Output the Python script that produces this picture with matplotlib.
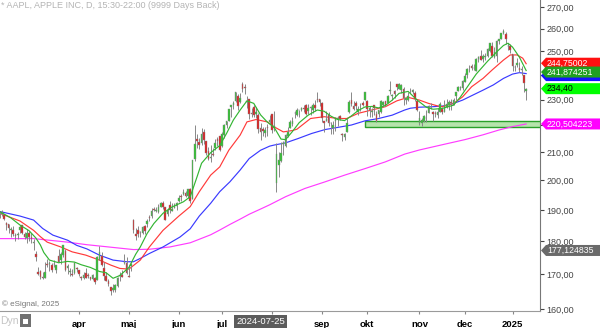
import numpy as np
import pandas as pd
import matplotlib
matplotlib.use("Agg")
import matplotlib.pyplot as plt
from matplotlib.patches import Polygon, Rectangle
from matplotlib.ticker import FixedLocator, NullLocator
import matplotlib.transforms as mtrans

plt.rcParams['font.family'] = ['Liberation Sans', 'DejaVu Sans']

# ---------------- data ----------------
holidays = ['2024-02-19', '2024-03-29', '2024-05-27', '2024-06-19', '2024-07-04',
            '2024-09-02', '2024-11-28', '2024-12-25', '2025-01-01', '2025-01-09']
first_day = '2024-02-08'
last_day = '2025-01-13'

opens = [
    189.39, 188.65, 188.42, 185.77, 185.32, 183.55, 183.42, 181.79, 181.94, 183.48, 185.01, 182.24, 181.10, 182.51, 181.27,
    179.55, 176.15, 170.76, 171.06, 169.15, 169.00, 172.94, 173.15, 172.77, 172.91, 171.17, 175.57, 174.34, 175.72, 177.05, 171.76, 170.57, 170.00, 170.41, 171.75,
    171.19, 169.08, 168.79, 170.29, 169.59, 169.03, 168.70, 168.80, 168.34, 174.26, 175.36, 171.75, 169.61, 168.03, 166.21, 165.52, 165.35, 166.54, 169.53, 169.88, 173.37, 173.33,
    169.58, 172.51, 186.65, 182.35, 183.45, 182.85, 182.56, 184.90, 185.44, 187.51, 187.91, 190.47, 189.51, 189.33, 191.09, 192.27, 190.98, 188.82, 191.51, 189.61, 190.76, 191.44,
    192.90, 194.64, 195.40, 195.69, 194.65, 196.90, 193.65, 207.37, 214.74, 213.85, 213.37, 217.59, 213.93, 210.39, 207.72, 209.15, 211.50, 214.69, 215.77,
    212.09, 216.15, 220.00, 221.65, 227.09, 227.93, 229.30, 231.39, 228.92, 236.48, 235.00, 229.45, 230.28, 224.82, 227.01, 224.37, 224.00, 218.93, 218.70, 216.96, 219.19, 221.44,
    224.37, 219.15, 199.09, 205.30, 206.90, 213.11, 212.10, 216.07, 219.01, 220.57, 224.60, 223.92, 225.72, 225.77, 226.52, 227.79, 225.66, 226.76, 226.00, 227.92, 230.10, 230.19,
    228.55, 221.66, 221.63, 223.95, 220.82, 218.92, 221.46, 222.50, 223.58, 216.54, 215.75, 217.55, 224.99, 229.97, 227.34, 228.65, 224.93, 227.30, 228.46, 230.04,
    229.52, 225.89, 225.14, 227.90, 224.50, 224.30, 225.23, 227.78, 229.30, 228.70, 233.61, 231.60, 233.43, 236.18, 234.45, 233.89, 234.08, 229.98, 229.74, 233.32, 233.10, 232.61, 229.34,
    220.97, 220.99, 221.80, 222.61, 224.63, 227.17, 225.00, 224.55, 224.01, 225.02, 226.40, 225.25, 226.98, 228.06, 228.88, 228.06, 231.46, 233.33, 234.47, 234.81,
    237.27, 239.81, 242.87, 243.99, 242.91, 241.83, 246.89, 247.96, 246.89, 247.82, 247.99, 250.08, 252.16, 247.50, 248.04, 254.77, 255.49, 258.19, 257.83, 252.23, 252.44,
    248.93, 243.36, 244.31, 242.98, 241.92, 240.01, 233.53,
]
highs = [
    189.54, 189.99, 188.67, 186.21, 185.53, 184.49, 184.85, 182.43, 182.89, 184.96, 185.04, 182.76, 183.92, 183.12, 182.57,
    180.53, 176.90, 172.04, 171.24, 170.73, 173.70, 174.38, 174.03, 173.19, 174.31, 172.62, 177.71, 176.61, 178.67, 177.49, 173.05, 171.94, 171.42, 173.60, 172.23,
    171.25, 169.34, 170.68, 171.92, 170.39, 169.20, 170.08, 169.09, 175.46, 178.36, 176.63, 173.76, 170.65, 168.64, 166.40, 167.26, 167.05, 169.30, 170.61, 171.34, 176.03, 174.99,
    172.71, 173.42, 187.00, 184.20, 184.90, 183.07, 184.66, 185.09, 187.10, 188.30, 190.65, 191.10, 190.81, 191.92, 192.73, 192.82, 191.00, 190.58, 193.00, 192.25, 192.18, 192.57,
    194.99, 195.32, 196.90, 196.50, 196.94, 197.30, 207.16, 220.20, 216.75, 215.17, 218.95, 218.63, 214.24, 211.89, 212.70, 211.38, 214.86, 215.74, 216.07,
    217.51, 220.38, 221.55, 226.45, 227.85, 229.40, 233.08, 232.39, 232.64, 237.23, 236.27, 231.46, 230.44, 226.80, 227.78, 226.94, 224.80, 220.85, 219.49, 219.30, 220.33, 223.82,
    224.48, 225.60, 213.50, 209.99, 213.64, 214.20, 216.78, 219.51, 221.89, 223.03, 225.35, 226.83, 225.99, 227.17, 227.98, 228.34, 228.22, 227.28, 228.85, 229.86, 232.92, 230.40,
    229.00, 221.78, 225.48, 225.24, 221.27, 221.48, 223.09, 223.55, 224.04, 217.22, 216.90, 222.71, 229.82, 233.09, 229.45, 229.35, 227.29, 228.50, 229.52, 233.00,
    229.65, 227.37, 226.81, 228.00, 225.69, 225.98, 229.75, 229.50, 229.41, 231.73, 237.49, 232.12, 233.85, 236.18, 236.85, 236.22, 235.14, 230.82, 233.22, 234.73, 234.33, 233.47, 229.83,
    225.35, 222.79, 223.95, 226.07, 227.88, 228.66, 225.70, 225.59, 226.65, 228.87, 226.92, 229.74, 230.16, 229.93, 230.16, 230.72, 233.25, 235.57, 235.69, 237.81,
    240.79, 242.76, 244.11, 244.54, 244.63, 247.24, 248.21, 250.80, 248.74, 249.29, 251.38, 253.83, 254.28, 252.00, 255.00, 255.65, 258.21, 260.10, 258.70, 253.50, 253.28,
    249.10, 244.18, 247.33, 245.55, 243.71, 240.16, 234.67,
]
lows = [
    187.35, 188.00, 186.79, 183.51, 182.44, 181.35, 181.67, 180.00, 180.66, 182.46, 182.23, 180.65, 179.56, 180.13, 179.53,
    177.38, 173.79, 169.62, 168.68, 168.49, 168.94, 172.05, 171.01, 170.76, 172.05, 170.29, 173.52, 173.03, 175.09, 170.84, 170.06, 169.45, 169.58, 170.11, 170.51,
    169.48, 168.23, 168.58, 168.82, 168.95, 168.24, 168.35, 167.11, 168.16, 174.21, 172.50, 168.27, 168.00, 166.55, 164.08, 164.77, 164.92, 166.21, 168.15, 169.18, 173.10, 170.00,
    169.11, 170.89, 182.66, 180.42, 181.32, 181.45, 182.11, 182.13, 184.62, 186.29, 187.37, 189.66, 189.18, 189.01, 190.92, 190.27, 186.63, 188.04, 189.10, 189.51, 190.63, 189.91,
    192.52, 193.03, 194.87, 194.17, 194.14, 192.15, 193.63, 206.90, 211.60, 211.30, 212.72, 213.00, 208.85, 207.11, 206.59, 208.61, 210.64, 212.35, 210.30,
    211.92, 215.10, 219.03, 221.65, 223.25, 226.37, 229.25, 225.77, 228.68, 233.09, 232.33, 226.64, 222.27, 223.28, 223.09, 222.68, 217.13, 214.62, 216.01, 215.75, 216.12, 220.63,
    217.02, 217.71, 196.00, 201.07, 206.39, 208.83, 211.97, 215.60, 219.01, 219.70, 222.76, 223.65, 223.04, 225.45, 225.05, 223.90, 224.33, 223.89, 224.89, 225.68, 228.88, 227.48,
    221.17, 217.48, 221.52, 219.77, 216.71, 216.73, 217.89, 219.82, 221.91, 213.92, 214.50, 217.54, 224.63, 227.62, 225.81, 225.73, 224.02, 225.41, 227.30, 229.65,
    223.74, 223.02, 223.32, 224.13, 221.33, 223.25, 224.83, 227.17, 227.34, 228.60, 232.37, 229.84, 230.52, 234.01, 234.45, 232.60, 227.76, 228.41, 229.57, 232.55, 232.32, 229.55, 225.37,
    220.27, 219.71, 221.14, 221.19, 224.57, 226.41, 221.50, 223.36, 222.76, 225.00, 224.27, 225.17, 226.66, 225.89, 225.71, 228.06, 229.74, 233.33, 233.81, 233.97,
    237.16, 238.90, 241.25, 242.13, 242.08, 241.75, 245.34, 246.26, 245.68, 246.24, 247.65, 249.78, 247.74, 247.09, 245.69, 253.45, 255.29, 257.63, 253.06, 250.75, 249.43,
    241.82, 241.89, 243.20, 241.35, 240.05, 233.00, 229.72,
]
closes = [
    188.32, 188.85, 187.15, 185.04, 184.15, 183.86, 182.31, 181.56, 182.32, 184.37, 182.52, 181.16, 182.63, 181.42, 180.75,
    179.66, 175.10, 170.12, 169.12, 169.00, 170.73, 172.75, 173.23, 171.13, 173.00, 172.62, 173.72, 176.08, 178.67, 171.37, 172.28, 170.85, 169.71, 173.31, 171.48,
    170.03, 168.84, 169.65, 168.82, 169.58, 168.45, 169.67, 167.78, 175.04, 176.55, 172.69, 169.38, 168.00, 167.04, 165.00, 165.84, 166.90, 169.02, 169.89, 169.30, 173.50, 170.33,
    169.30, 173.03, 183.38, 181.71, 182.40, 182.74, 184.57, 183.05, 186.28, 187.43, 189.72, 189.84, 189.87, 191.04, 192.35, 190.90, 186.88, 189.98, 189.99, 190.29, 191.29, 192.25,
    194.03, 194.35, 195.87, 194.48, 196.89, 193.12, 207.15, 213.07, 214.24, 212.49, 216.67, 214.29, 209.68, 207.49, 208.14, 209.07, 213.25, 214.10, 210.62,
    216.75, 220.27, 221.55, 226.34, 227.82, 228.68, 232.98, 227.57, 230.54, 234.40, 234.82, 228.88, 224.18, 224.31, 223.96, 225.01, 218.54, 217.49, 217.96, 218.24, 218.80, 222.08,
    218.36, 219.86, 209.27, 207.23, 209.82, 213.31, 216.24, 217.53, 221.27, 221.72, 224.72, 226.05, 225.89, 226.51, 226.40, 224.53, 226.84, 227.18, 228.03, 226.49, 229.79, 229.00,
    222.77, 220.85, 222.38, 220.82, 220.91, 220.11, 222.66, 222.77, 222.50, 216.32, 216.79, 220.69, 228.87, 228.20, 226.47, 227.37, 226.37, 227.52, 227.79, 233.00,
    226.21, 226.78, 225.67, 226.80, 221.69, 225.77, 229.54, 229.04, 227.55, 231.30, 233.85, 231.78, 232.15, 235.00, 236.48, 235.86, 230.76, 230.57, 231.41, 233.40, 233.67, 230.10, 225.91,
    222.91, 222.01, 223.45, 222.72, 227.48, 226.96, 224.23, 224.23, 225.12, 228.22, 225.00, 228.02, 228.28, 229.00, 228.52, 229.87, 232.87, 235.06, 234.93, 237.33,
    239.59, 242.65, 243.01, 243.04, 242.84, 246.75, 247.77, 246.49, 247.96, 248.13, 251.04, 253.48, 248.05, 249.79, 254.49, 255.27, 258.20, 259.02, 255.59, 252.20, 250.42,
    243.85, 243.36, 245.00, 242.21, 242.70, 236.85, 234.40,
]

# moving averages (bar number, price)
ma_fast_bar = [0, 5, 9, 13, 16, 18, 19.5, 22, 26, 30, 33, 36, 40, 44, 47, 50, 53, 57, 60, 62,
               65, 68, 72, 76, 81, 84, 87, 89, 93, 97, 100, 103, 106, 109, 112, 115, 118, 121, 124, 126,
               129, 132, 136, 140, 143, 146, 149, 152, 155, 158, 161, 164, 167, 170, 173, 176, 180, 184, 188, 191,
               195, 200, 203, 206, 210, 215, 219, 222, 224, 226, 229, 232]
ma_fast = [189.5, 187.4, 185.1, 183.3, 181.0, 178.8, 176.5, 174.2, 173.4, 173.8, 173.6, 172.8, 172.0, 170.8, 170.4, 168.8, 169.6, 172.0, 176.0, 178.2,
           182.4, 185.6, 188.9, 191.0, 192.7, 194.4, 201.2, 206.0, 209.8, 212.4, 216.9, 222.0, 225.9, 229.5, 228.5, 224.0, 221.2, 219.2, 214.8, 214.6,
           217.6, 221.0, 223.9, 225.9, 225.4, 223.5, 222.2, 221.8, 223.6, 225.7, 227.1, 227.3, 226.7, 227.7, 229.8, 232.5, 233.3, 229.8, 227.0, 226.2,
           226.5, 227.8, 231.0, 235.0, 240.4, 245.8, 249.8, 252.6, 253.6, 251.9, 247.6, 241.874251]

ma_mid_bar = [0, 9, 15, 18, 21, 27, 32, 38, 44, 49, 53, 57, 62, 66, 72, 79, 84, 88, 93, 97,
              101, 106, 109, 113, 118, 121, 125, 129, 131, 137, 143, 149, 153, 158, 164, 170, 175, 180, 185, 189,
              193, 195, 200, 204, 208, 213, 217, 222, 225, 228, 230.5, 232]
ma_mid = [188.9, 186.4, 183.4, 181.4, 179.7, 178.2, 176.7, 175.7, 174.2, 172.7, 171.7, 171.5, 174.2, 178.2, 183.4, 188.0, 191.1, 196.1, 201.8, 204.7,
          210.7, 216.3, 221.3, 222.2, 221.3, 219.4, 217.5, 218.0, 218.5, 222.6, 223.3, 222.6, 222.6, 224.6, 225.9, 227.2, 229.5, 230.9, 229.8, 228.5,
          227.5, 227.2, 228.5, 231.1, 235.2, 238.6, 242.1, 246.3, 248.5, 248.5, 247.1, 244.75002]

ma_slow_bar = [0, 9, 15, 19, 23.5, 30, 34, 38.5, 44, 50, 56, 59, 62, 66, 72, 79.5, 84, 88, 93, 97,
               101.5, 106, 110, 115, 119, 121, 126, 131.5, 137.5, 143.5, 149, 155, 161, 167, 173, 178.5, 181, 185, 191, 195.5,
               200, 204, 208.5, 213, 217.5, 222, 226, 229, 232]
ma_slow = [189.5, 188.0, 186.7, 184.0, 181.9, 180.3, 178.7, 177.6, 175.7, 174.2, 173.7, 173.7, 174.7, 176.2, 178.2, 181.3, 183.9, 188.0, 192.2, 196.1,
           199.5, 203.6, 207.7, 210.7, 212.2, 212.6, 213.4, 215.0, 216.9, 218.4, 219.2, 220.1, 221.7, 222.6, 223.9, 225.9, 226.6, 227.0, 227.2, 227.5,
           228.5, 229.8, 231.8, 233.8, 235.9, 238.6, 240.4, 241.0, 240.6]

ma_long_bar = [0, 15, 30, 38.5, 44, 59, 66, 75, 84, 88, 93, 97, 101.5, 106, 110, 115, 119, 126, 134.5, 143.5,
               152, 161, 170, 178.5, 185, 195.5, 205, 213, 220, 226, 232]
ma_long = [180.8, 180.8, 179.7, 178.9, 178.5, 177.4, 177.5, 178.2, 179.5, 180.6, 182.0, 183.5, 185.3, 187.0, 188.6, 190.3, 191.7, 194.4, 197.2, 199.5,
           201.8, 204.1, 206.5, 209.3, 210.8, 212.8, 214.6, 216.4, 218.2, 219.5, 220.504223]

zone_start = '2024-09-30'
zone_low, zone_high = 219.4, 221.6

month_labels = ['apr', 'maj', 'jun', 'jul', '', 'sep', 'okt', 'nov', 'dec', '2025']
cursor_date = '2024-07-25'
cursor_level = 177.124835
last_close = 234.40
y_ticks = [160, 170, 180, 190, 200, 210, 220, 230, 240, 250, 260, 270]
y_hidden = [220, 240]   # tick labels covered by the value tags

# ---------------- figure ----------------
W, H = 600, 328
fig = plt.figure(figsize=(W / 100, H / 100), dpi=100)
ax = fig.add_axes([0, 17 / H, 540 / W, 1 - 17 / H])

dates = pd.bdate_range(first_day, last_day, freq='C', holidays=holidays)
o = np.array(opens); h = np.array(highs); l = np.array(lows); c = np.array(closes)
n = min(len(o), len(h), len(l), len(c), len(dates))
o, h, l, c = o[:n], h[:n], l[:n], c[:n]
dates = dates[:n]
x = np.arange(n)

ax.set_yscale('log')
ax.set_ylim(159.5, 273.3)
ax.set_xlim(0.2, 238.1)

# support zone
zi = int(np.searchsorted(dates, pd.Timestamp(zone_start)))
ax.add_patch(Rectangle((zi, zone_low), 400, zone_high - zone_low, facecolor='#b6e4ac',
                       edgecolor='#2aa02a', lw=1.0, zorder=1))

# moving averages
ax.plot(ma_long_bar, ma_long, color='#ff3cff', lw=0.85, zorder=2)
ax.plot(ma_slow_bar, ma_slow, color='#3a3aff', lw=0.85, zorder=2)
ax.plot(ma_mid_bar, ma_mid, color='#ff3a3a', lw=0.85, zorder=2)

# candles
up = c >= o
ax.vlines(x, l, h, color='#888888', lw=0.7, zorder=3)
body_h = np.maximum(np.abs(c - o), 0.12)
ax.bar(x, body_h, bottom=np.minimum(o, c), width=0.72,
       color=np.where(up, '#2ec42e', '#dd1c1c'), edgecolor='#888888', linewidth=0.3, zorder=4)

ax.plot(ma_fast_bar, ma_fast, color='#33b533', lw=0.85, zorder=5)

# axes styling
for s in ['top', 'left']:
    ax.spines[s].set_visible(False)
ax.spines['right'].set_color('#777777')
ax.spines['bottom'].set_color('#9a9a9a')
ax.yaxis.tick_right()
ax.yaxis.set_major_locator(FixedLocator(y_ticks))
ax.yaxis.set_minor_locator(NullLocator())
ax.set_yticklabels(['' if v in y_hidden else f"{v:.2f}".replace('.', ',') for v in y_ticks])
ax.tick_params(axis='y', direction='out', length=3, width=0.8, colors='#444444', labelsize=6.5, pad=1.5)

month_starts = [i for i in range(1, n) if dates[i].month != dates[i - 1].month]
month_starts = month_starts[-len(month_labels):]
ax.xaxis.set_major_locator(FixedLocator(month_starts))
ax.xaxis.set_minor_locator(NullLocator())
ax.set_xticklabels(month_labels[-len(month_starts):], fontweight='bold', fontsize=6.8, color='black')
ax.tick_params(axis='x', direction='out', length=2.5, width=0.8, colors='#888888', labelcolor='black', pad=4)

# cursor date label
ci = int(np.searchsorted(dates, pd.Timestamp(cursor_date)))
trans = mtrans.blended_transform_factory(ax.transData, ax.transAxes)
ax.text(ci, -10.5 / 311, cursor_date, transform=trans, ha='center', va='center', fontsize=6.8,
        color='white', bbox=dict(boxstyle='square,pad=0.2', fc='#5c5c5c', ec='none'), clip_on=False, zorder=10)


# value tags on the price axis
def tag(price, text, face, tcolor, nudge_px=0.0):
    yd = ax.transData.transform((1, price))[1]
    yf = (yd - nudge_px) / fig.bbox.height
    hh = 5.5 / H
    x0, x1, x2 = 541 / W, 546 / W, 1.0
    poly = Polygon([[x0, yf], [x1, yf + hh], [x2, yf + hh], [x2, yf - hh], [x1, yf - hh]],
                   closed=True, transform=fig.transFigure, facecolor=face, edgecolor='none', zorder=20)
    fig.patches.append(poly)
    if text:
        fig.text(547 / W, yf, text, ha='left', va='center', fontsize=6.3, color=tcolor, zorder=21)


fmt = lambda v, d: f"{v:.{d}f}".replace('.', ',')
tag(ma_slow[-1], '', '#1414ff', 'white', 2.0)      # its text is hidden under the green tag
tag(ma_mid[-1], fmt(ma_mid[-1], 5), '#ff1010', 'white', -0.5)
tag(ma_fast[-1], fmt(ma_fast[-1], 6), '#20a020', 'white', 1.5)
tag(last_close, fmt(last_close, 2), '#00ff00', '#000000')
tag(ma_long[-1], fmt(ma_long[-1], 6), '#ff00ff', 'white')
tag(cursor_level, fmt(cursor_level, 6), '#6a6a6a', 'white')

# texts
fig.text(1 / W, 1 - 6 / H, '* AAPL, APPLE INC, D, 15:30-22:00 (9999 Days Back)', fontsize=6.5,
         color='#b4b4b4', ha='left', va='center')
fig.text(2 / W, 1 - 304 / H, '\u00a9 eSignal, 2025', fontsize=5.8, color='#777777', ha='left', va='center')
fig.text(0 / W, 1 - 321 / H, 'Dyn', fontsize=7.5, color='#c4c4c4', ha='left', va='center')
fig.patches.append(Rectangle((20 / W, 1 - 327 / H), 11 / W, 13 / H, transform=fig.transFigure,
                             facecolor='#707070', edgecolor='none'))
fig.patches.append(Rectangle((23 / W, 1 - 324 / H), 5 / W, 5 / H, transform=fig.transFigure,
                             facecolor='white', edgecolor='none'))

fig.savefig('out.png', dpi=100)
